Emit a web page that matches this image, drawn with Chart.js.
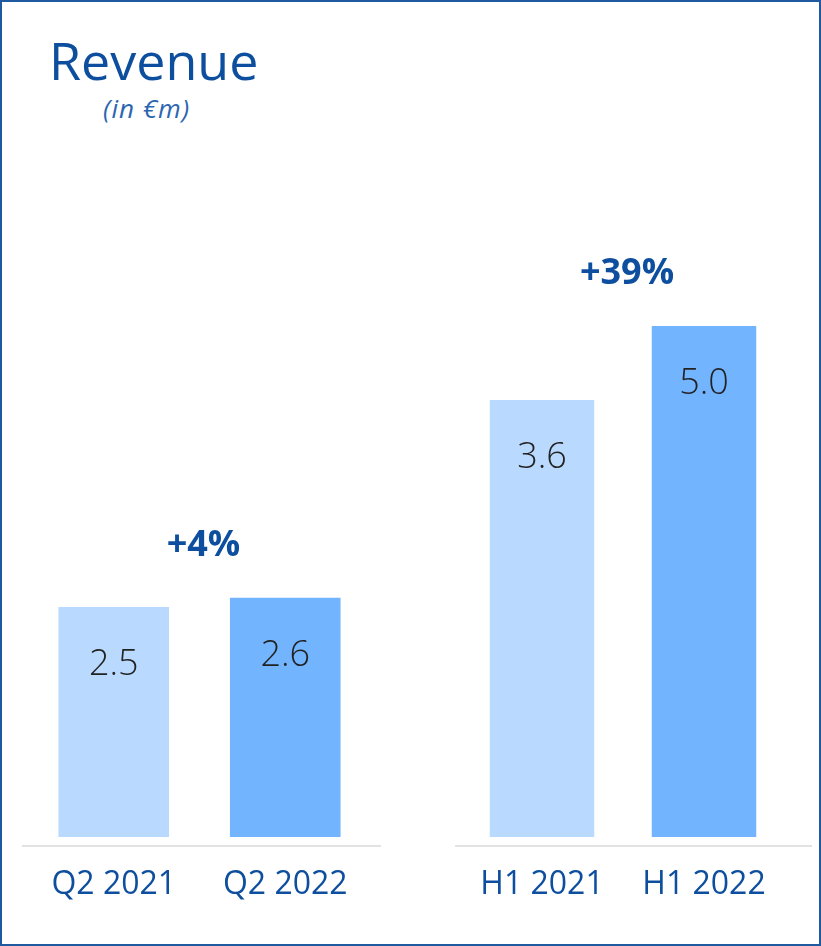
<!DOCTYPE html>
<html>
<head>
<meta charset="utf-8">
<script src="https://cdn.jsdelivr.net/npm/chart.js@4"></script>
<style>
  body { margin: 0; background: #fff; }
  #frame { position: relative; width: 821px; height: 946px; box-sizing: border-box; border: 2px solid #1f5aa0; font-family: "Open Sans", sans-serif; }
  #title { position: absolute; left: 47px; top: 32px; font-size: 52px; color: #0d4f9e; line-height: 1; }
  #subtitle { position: absolute; left: 101px; top: 88px; font-size: 26px; font-style: italic; color: #2c66b0; letter-spacing: 1px; }
  .box { position: absolute; }
</style>
</head>
<body>
<div id="frame">
  <div id="title">Revenue</div>
  <div id="subtitle">(in €m)</div>
  <div class="box" style="left:20px; top:478px; width:359px; height:435px;"><canvas id="quarterChart"></canvas></div>
  <div class="box" style="left:453px; top:198px; width:357px; height:715px;"><canvas id="halfChart"></canvas></div>
</div>
<script>
// data
const quarterLabels = ["Q2 2021", "Q2 2022"];
const quarterRevenue = [2.5, 2.6];
const quarterGrowth = "+4%";

const halfLabels = ["H1 2021", "H1 2022"];
const halfRevenue = [3.6, 5.0];
const halfGrowth = "+39%";

const barColors = ["#b9dafe", "#72b4fe"];
const darkBlue = "#0d4f9e";

// draws the grey baseline, the values inside the bars and the growth figure
function labelPlugin(growthText) {
  return {
    id: "labels",
    afterDatasetsDraw(chart) {
      let ctx = chart.ctx;
      let area = chart.chartArea;
      let bars = chart.getDatasetMeta(0).data;
      let values = chart.data.datasets[0].data;

      ctx.save();
      ctx.strokeStyle = "#e2e2e2";
      ctx.lineWidth = 2;
      ctx.beginPath();
      ctx.moveTo(0, area.bottom + 1);
      ctx.lineTo(chart.width, area.bottom + 1);
      ctx.stroke();

      ctx.fillStyle = "#222";
      ctx.font = "300 36px 'Open Sans'";
      ctx.textAlign = "center";
      ctx.textBaseline = "middle";
      for (let i = 0; i < bars.length; i++) {
        ctx.fillText(values[i].toFixed(1), bars[i].x, bars[i].y + 58);
      }

      let top = Math.min(bars[0].y, bars[1].y);
      ctx.fillStyle = darkBlue;
      ctx.font = "bold 36px 'Open Sans'";
      ctx.fillText(growthText, (bars[0].x + bars[1].x) / 2 + 4, top - 52);
      ctx.restore();
    }
  };
}

function makeChart(id, labels, values, growthText, yMin, yMax, base, padLeft, padRight) {
  let dataset = {
    data: values,
    backgroundColor: barColors,
    barPercentage: 0.645,
    categoryPercentage: 1
  };
  if (base !== null) dataset.base = base;

  return new Chart(document.getElementById(id), {
    type: "bar",
    data: { labels: labels, datasets: [dataset] },
    options: {
      responsive: true,
      maintainAspectRatio: false,
      animation: false,
      layout: { padding: { left: padLeft, right: padRight, top: 0, bottom: 0 } },
      plugins: { legend: { display: false }, tooltip: { enabled: false } },
      scales: {
        x: {
          grid: { display: false },
          border: { display: false },
          ticks: { color: darkBlue, font: { family: "Open Sans", size: 32 }, padding: 13 },
          afterFit: (axis) => { axis.height = 70; }
        },
        y: { display: false, min: yMin, max: yMax }
      }
    },
    plugins: [labelPlugin(growthText)]
  });
}

makeChart("quarterChart", quarterLabels, quarterRevenue, quarterGrowth, -0.087, 3.88, null, 6, 10);
makeChart("halfChart", halfLabels, halfRevenue, halfGrowth, -4.818, 7.384, -4.667, 6, 27);
</script>
</body>
</html>
